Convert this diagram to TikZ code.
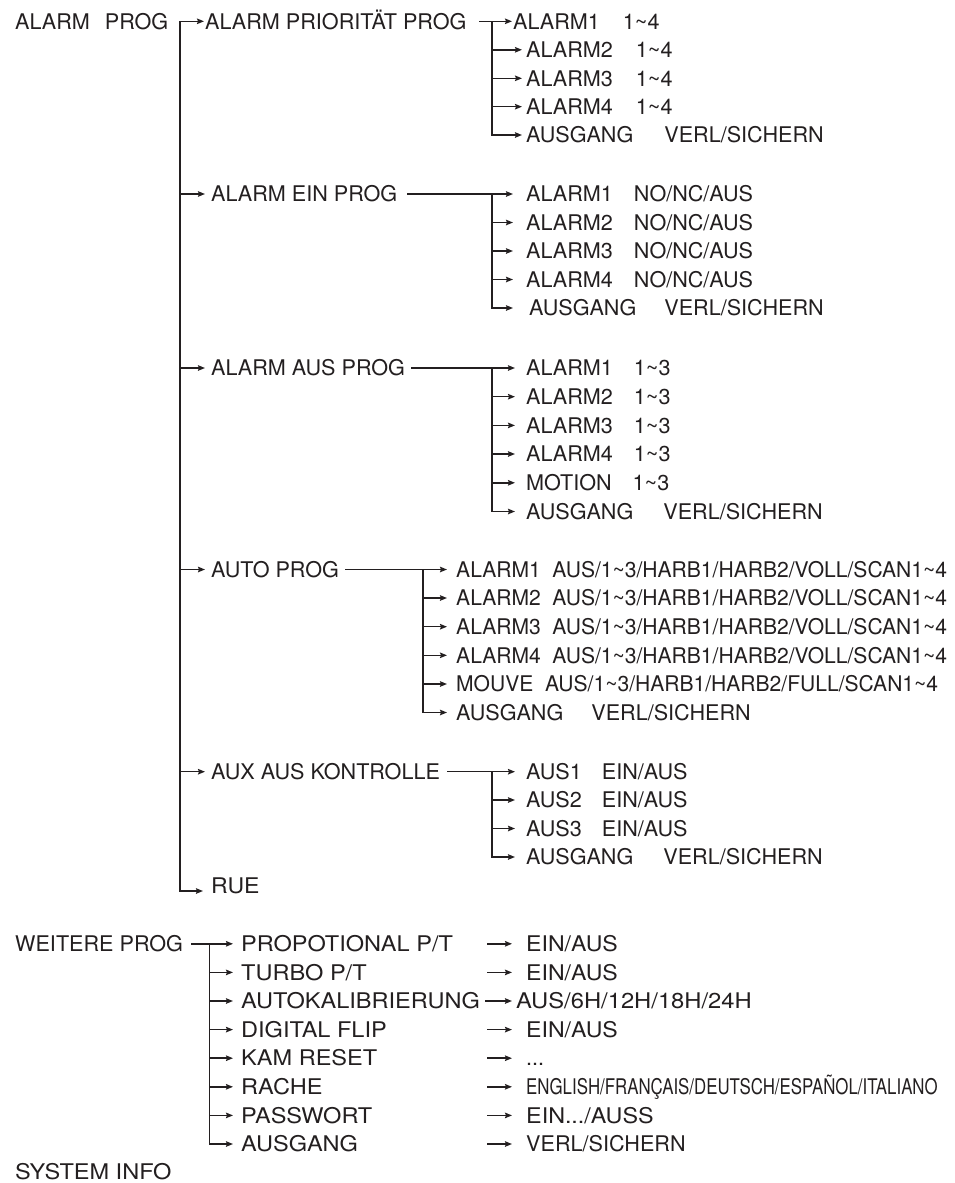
\documentclass[tikz,border=0pt]{standalone}
\usepackage{fontspec}
\setmainfont{TeX Gyre Heros}
\usetikzlibrary{arrows.meta,calc}
\definecolor{ink}{RGB}{35,31,32}
\newcommand\tild{\textasciitilde}
\newcommand\sx[2]{\scalebox{#1}[1]{#2}}
\begin{document}
\begin{tikzpicture}[x=1pt,y=-1pt,
  lbl/.style={anchor=west,inner sep=0pt,text height=15.5pt,text depth=0pt,
    font=\fontsize{21.6}{24}\selectfont,text=ink},
  ln/.style={line width=1.5pt,draw=ink,line cap=rect},
  arr/.style={ln,-{Stealth[length=7pt,width=5.5pt,inset=1pt]}}]
\useasboundingbox (0,0) rectangle (954,1183);

% ---- top level
\node[lbl] (root) at (15,21.3) {ALARM\hspace{15pt}PROG};
\node[lbl] (m0) at (205,21.3) {ALARM PRIORITÄT PROG};
\node[lbl] (m1) at (211,194) {ALARM EIN PROG};
\node[lbl] (m2) at (211,368) {ALARM AUS PROG};
\node[lbl] (m3) at (211,569.5) {AUTO PROG};
\node[lbl] (m4) at (211,771.7) {AUX AUS KONTROLLE};
\node[lbl] (m5) at (211,885.5) {\sx{1.066}{RUE}};

\coordinate (tr) at (180,21.3);
\coordinate (trb) at (180,891);
\draw[arr] (trb) -- (tr) -- ($(m0.west)+(-1,0)$);
\foreach \m in {m1,m2,m3,m4} \draw[arr] (tr |- \m.west) -- ($(\m.west)+(-6,0)$);
\draw[arr] (trb) -- ($(trb -| m5.west)+(-8,0)$);

% ---- ALARM PRIORITAET PROG
\node[lbl] (a1) at (513,21.3) {ALARM1\hspace{23pt}1\tild 4};
\node[lbl] (a2) at (526,49.8) {ALARM2\hspace{23pt}1\tild 4};
\node[lbl] (a3) at (526,78.3) {ALARM3\hspace{23pt}1\tild 4};
\node[lbl] (a4) at (526,106.7) {ALARM4\hspace{23pt}1\tild 4};
\node[lbl] (a5) at (526,135) {AUSGANG\hspace{31pt}VERL/SICHERN};
\coordinate (pb) at (492,21.3);
\draw[arr] ($(m0.east)+(13,0)$) -- ($(a1.west)+(-1,0)$);
\draw[ln] (pb) -- (pb |- a5.west);
\foreach \n in {a2,a3,a4,a5} \draw[arr] (pb |- \n.west) -- ($(\n.west)+(-4,0)$);

% ---- ALARM EIN PROG
\node[lbl] (b1) at (526,194) {ALARM1\hspace{21pt}NO/NC/AUS};
\node[lbl] (b2) at (526,222.5) {ALARM2\hspace{21pt}NO/NC/AUS};
\node[lbl] (b3) at (526,251) {ALARM3\hspace{21pt}NO/NC/AUS};
\node[lbl] (b4) at (526,279.5) {ALARM4\hspace{21pt}NO/NC/AUS};
\node[lbl] (b5) at (529,308) {AUSGANG\hspace{28pt}VERL/SICHERN};
\coordinate (eb) at (492,194);
\draw[arr] ($(m1.east)+(10,0)$) -- ($(b1.west)+(-13,0)$);
\draw[ln] (eb) -- (eb |- b5.west);
\foreach \n in {b2,b3,b4} \draw[arr] (eb |- \n.west) -- ($(\n.west)+(-13,0)$);
\draw[arr] (eb |- b5.west) -- ($(b5.west)+(-16,0)$);

% ---- ALARM AUS PROG
\node[lbl] (c1) at (526,368) {ALARM1\hspace{21pt}1\tild 3};
\node[lbl] (c2) at (526,396.7) {ALARM2\hspace{21pt}1\tild 3};
\node[lbl] (c3) at (526,425.4) {ALARM3\hspace{21pt}1\tild 3};
\node[lbl] (c4) at (526,454) {ALARM4\hspace{21pt}1\tild 3};
\node[lbl] (c5) at (526,482.8) {MOTION\hspace{21pt}1\tild 3};
\node[lbl] (c6) at (526,511.5) {AUSGANG\hspace{30pt}VERL/SICHERN};
\coordinate (ab) at (492,368);
\draw[arr] ($(m2.east)+(7,0)$) -- ($(c1.west)+(-11,0)$);
\draw[ln] (ab) -- (ab |- c6.west);
\foreach \n in {c2,c3,c4,c5,c6} \draw[arr] (ab |- \n.west) -- ($(\n.west)+(-11,0)$);

% ---- AUTO PROG
\node[lbl] (d1) at (456,569.5) {\sx{0.975}{ALARM1\hspace{12pt}AUS/1\tild 3/HARB1/HARB2/VOLL/SCAN1\tild 4}};
\node[lbl] (d2) at (456,598) {\sx{0.975}{ALARM2\hspace{12pt}AUS/1\tild 3/HARB1/HARB2/VOLL/SCAN1\tild 4}};
\node[lbl] (d3) at (456,626.7) {\sx{0.975}{ALARM3\hspace{12pt}AUS/1\tild 3/HARB1/HARB2/VOLL/SCAN1\tild 4}};
\node[lbl] (d4) at (456,655.3) {\sx{0.975}{ALARM4\hspace{12pt}AUS/1\tild 3/HARB1/HARB2/VOLL/SCAN1\tild 4}};
\node[lbl] (d5) at (456,684) {\sx{0.975}{MOUVE\hspace{12pt}AUS/1\tild 3/HARB1/HARB2/FULL/SCAN1\tild 4}};
\node[lbl] (d6) at (456,712.5) {AUSGANG\hspace{28pt}VERL/SICHERN};
\coordinate (ub) at (423,569.5);
\draw[arr] ($(m3.east)+(7,0)$) -- ($(d1.west)+(-9,0)$);
\draw[ln] (ub) -- (ub |- d6.west);
\foreach \n in {d2,d3,d4,d5,d6} \draw[arr] (ub |- \n.west) -- ($(\n.west)+(-9,0)$);

% ---- AUX AUS KONTROLLE
\node[lbl] (e1) at (526,771.7) {AUS1\hspace{20pt}EIN/AUS};
\node[lbl] (e2) at (526,800) {AUS2\hspace{20pt}EIN/AUS};
\node[lbl] (e3) at (526,828.5) {AUS3\hspace{20pt}EIN/AUS};
\node[lbl] (e4) at (526,857) {AUSGANG\hspace{30pt}VERL/SICHERN};
\coordinate (xb) at (492,771.7);
\draw[arr] ($(m4.east)+(8,0)$) -- ($(e1.west)+(-11,0)$);
\draw[ln] (xb) -- (xb |- e4.west);
\foreach \n in {e2,e3,e4} \draw[arr] (xb |- \n.west) -- ($(\n.west)+(-11,0)$);

% ---- WEITERE PROG
\node[lbl] (w0) at (15,943.8) {WEITERE PROG};
\node[lbl] (w1) at (241,943.8) {\sx{1.09}{PROPOTIONAL P/T}};
\node[lbl] (w2) at (241,972.4) {\sx{1.09}{TURBO P/T}};
\node[lbl] (w3) at (241,1001) {\sx{1.09}{AUTOKALIBRIERUNG}};
\node[lbl] (w4) at (241,1029.6) {\sx{1.09}{DIGITAL FLIP}};
\node[lbl] (w5) at (241,1058.2) {\sx{1.09}{KAM RESET}};
\node[lbl] (w6) at (241,1086.8) {\sx{1.09}{RACHE}};
\node[lbl] (w7) at (241,1115.4) {\sx{1.09}{PASSWORT}};
\node[lbl] (w8) at (241,1144) {\sx{1.09}{AUSGANG}};
\coordinate (wb) at (209.3,943.8);
\draw[arr] ($(w0.east)+(9,0)$) -- ($(w1.west)+(-8,0)$);
\draw[ln] (wb) -- (wb |- w8.west);
\foreach \n in {w2,w3,w4,w5,w6,w7,w8} \draw[arr] (wb |- \n.west) -- ($(\n.west)+(-8,0)$);

\node[lbl] (v1) at (526,943.8) {\sx{1.07}{EIN/AUS}};
\node[lbl] (v2) at (526,972.4) {\sx{1.07}{EIN/AUS}};
\node[lbl] (v3) at (516,1001) {\sx{1.1}{AUS/6H/12H/18H/24H}};
\node[lbl] (v4) at (526,1029.6) {\sx{1.07}{EIN/AUS}};
\node[lbl] (v5) at (526,1058.2) {...};
\node[lbl] (v6) at (526,1086.8) {\sx{0.78}{ENGLISH/FRANÇAIS/DEUTSCH/ESPAÑOL/ITALIANO}};
\node[lbl] (v7) at (526,1115.4) {\sx{1.08}{EIN.../AUSS}};
\node[lbl] (v8) at (526,1144) {VERL/SICHERN};
\foreach \n in {v1,v2,v4,v5,v6,v7,v8} \draw[arr] ($(\n.west)+(-38,0)$) -- ($(\n.west)+(-14,0)$);
\draw[arr] ($(v3.west)+(-30,0)$) -- ($(v3.west)+(-4,0)$);

\node[lbl] (sys) at (15,1172) {\sx{1.09}{SYSTEM INFO}};
\end{tikzpicture}
\end{document}
